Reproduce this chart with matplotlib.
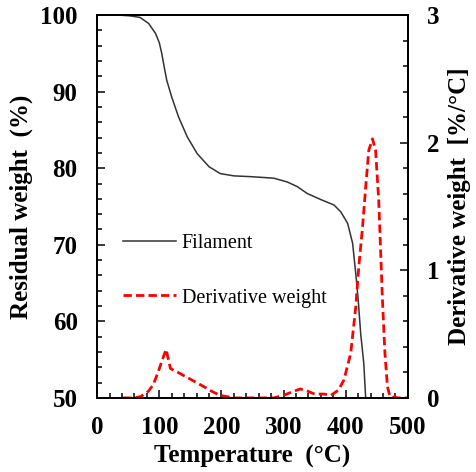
import matplotlib
matplotlib.use('Agg')
import matplotlib.pyplot as plt
from matplotlib.ticker import MultipleLocator

# ── data ──────────────────────────────────────────────────────────────────────
temp_w = [35, 53, 69, 83, 94, 100, 104, 108, 112, 120, 131, 145, 161, 180, 198,
          220, 247, 284, 306, 322, 338, 360, 381, 392, 403, 411, 416, 420, 424,
          429, 432]
weight = [100, 99.9, 99.7, 98.9, 97.6, 96.4, 95.0, 93.2, 91.5, 89.3, 86.7, 84.1,
          81.9, 80.2, 79.3, 79.0, 78.9, 78.7, 78.2, 77.6, 76.7, 75.9, 75.2, 74.3,
          72.8, 70.2, 66.3, 62.8, 58.4, 54.5, 50.0]

temp_d = [42, 58, 70, 82, 90, 98, 105, 111, 118, 130, 145, 160, 171, 185, 198,
          220, 260, 284, 300, 315, 327, 340, 350, 365, 376, 388, 397, 408, 416,
          421, 427, 432, 437, 443, 448, 453, 456, 459, 463, 467, 471, 485, 500]
deriv = [0, 0, 0.01, 0.05, 0.1, 0.2, 0.3, 0.38, 0.23, 0.2, 0.16, 0.12, 0.09,
         0.05, 0.02, 0, 0, 0, 0.02, 0.05, 0.07, 0.05, 0.03, 0.03, 0.02, 0.06,
         0.14, 0.35, 0.71, 1.03, 1.34, 1.65, 1.94, 2.03, 1.94, 1.55, 1.16, 0.77,
         0.35, 0.09, 0.01, 0, 0]

# ── style ─────────────────────────────────────────────────────────────────────
SERIF = ['Liberation Serif', 'DejaVu Serif']
plt.rcParams['font.family'] = SERIF
FS = 18

fig, ax = plt.subplots(figsize=(4.76, 4.72), dpi=100)
fig.patch.set_facecolor('white')
fig.subplots_adjust(left=0.204, right=0.857, bottom=0.157, top=0.968)
ax2 = ax.twinx()

l1, = ax.plot(temp_w, weight, color='#333333', lw=1.1, label='Filament')
l2, = ax2.plot(temp_d, deriv, color='red', lw=2.0, dashes=(3, 1.5),
               label='Derivative weight')

ax.set_xlim(0, 500)
ax.set_ylim(50, 100)
ax2.set_ylim(0, 3)

ax.xaxis.set_major_locator(MultipleLocator(100))
ax.xaxis.set_minor_locator(MultipleLocator(20))
ax.yaxis.set_major_locator(MultipleLocator(10))
ax.yaxis.set_minor_locator(MultipleLocator(2))
ax2.yaxis.set_major_locator(MultipleLocator(1))
ax2.yaxis.set_minor_locator(MultipleLocator(0.2))

for a in (ax, ax2):
    for s in a.spines.values():
        s.set_linewidth(1.3)
    a.tick_params(which='both', direction='in', width=1.1, labelsize=FS)
    a.tick_params(which='major', length=5.5)
    a.tick_params(which='minor', length=3.5)

ax.tick_params(axis='x', which='both', top=False, pad=13)
ax.tick_params(axis='y', which='both', right=False, pad=14)
ax2.tick_params(axis='y', which='both', left=False, pad=14)

for lab in ax.get_xticklabels() + ax.get_yticklabels() + ax2.get_yticklabels():
    lab.set_fontweight('bold')

ax.set_xlabel('Temperature  (°C)', fontsize=FS, fontweight='bold', labelpad=4)
ax.set_ylabel('Residual weight  (%)', fontsize=FS, fontweight='bold', labelpad=5)
ax2.set_ylabel('Derivative weight  [%/°C]', fontsize=FS, fontweight='bold',
               labelpad=6)

ax2.legend(handles=[l1, l2], loc='center left', bbox_to_anchor=(0.084, 0.332),
           frameon=False, fontsize=14.5, handlelength=2.6, handletextpad=0.3,
           labelspacing=1.75, borderpad=0, borderaxespad=0)

plt.savefig('out.png', dpi=100, facecolor='white')
plt.close()
